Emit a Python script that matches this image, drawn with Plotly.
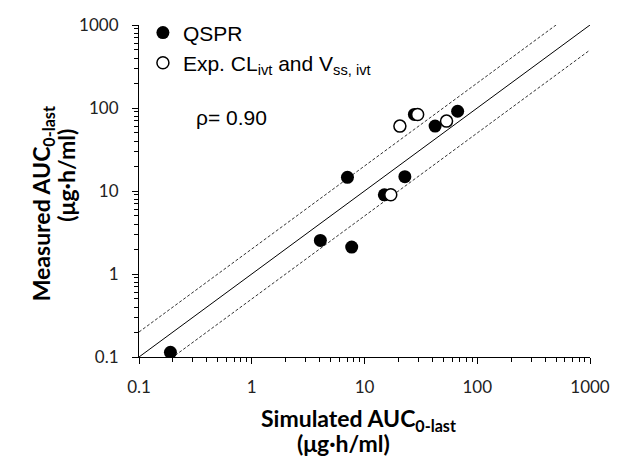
import plotly.graph_objects as go

# Data (µg·h/ml)
qspr_sim = [0.19, 4.06, 7.7, 7.06, 15.0, 22.8, 27.7, 42.3, 67.0]
qspr_meas = [0.114, 2.54, 2.11, 14.6, 9.0, 14.9, 83.6, 60.5, 91.4]
exp_sim = [17.1, 20.6, 29.6, 53.4]
exp_meas = [9.0, 60.5, 83.6, 69.5]

# reference lines: unity and 2-fold
ref_x = [0.1, 1000]
fold = 2.0

tick_vals = [0.1, 1, 10, 100, 1000]
tick_text = ["0.1", "1", "10", "100", "1000"]

fig = go.Figure()
fig.add_trace(go.Scatter(x=ref_x, y=ref_x, mode="lines",
                         line=dict(color="black", width=1), showlegend=False, hoverinfo="skip"))
fig.add_trace(go.Scatter(x=ref_x, y=[v * fold for v in ref_x], mode="lines",
                         line=dict(color="#333", width=1, dash="3px,2px"), showlegend=False, hoverinfo="skip"))
fig.add_trace(go.Scatter(x=ref_x, y=[v / fold for v in ref_x], mode="lines",
                         line=dict(color="#333", width=1, dash="3px,2px"), showlegend=False, hoverinfo="skip"))
fig.add_trace(go.Scatter(x=qspr_sim, y=qspr_meas, mode="markers", name="QSPR",
                         marker=dict(color="black", size=13, line=dict(width=0))))
fig.add_trace(go.Scatter(x=exp_sim, y=exp_meas, mode="markers",
                         name="Exp. CL<sub>ivt</sub> and V<sub>ss, ivt</sub>",
                         marker=dict(color="white", size=12, line=dict(color="black", width=1.5))))

axis_common = dict(
    type="log", showline=True, linecolor="black", linewidth=1.2,
    showgrid=False, zeroline=False, ticks="outside", ticklen=6, tickwidth=1, tickcolor="black",
    tickmode="array", tickvals=tick_vals, ticktext=tick_text,
    tickfont=dict(family="Lato", size=17, color="#222"),
    minor=dict(ticks="outside", ticklen=4, tickwidth=1, tickcolor="black",
               dtick="D1", showgrid=False),
)
fig.update_xaxes(range=[-1, 3], ticklabelstandoff=8, **axis_common)
fig.update_yaxes(range=[-1, 3], ticklabelstandoff=10, **axis_common)

title_font = dict(family="Lato", size=23, color="black")
fig.add_annotation(text="<b>Simulated AUC<sub>0-last</sub></b>", xref="paper", yref="paper",
                   x=0.487, y=-0.188, showarrow=False, font=title_font, xanchor="center", yanchor="middle")
fig.add_annotation(text="<b>(μg·h/ml)</b>", xref="paper", yref="paper",
                   x=0.454, y=-0.258, showarrow=False, font=title_font, xanchor="center", yanchor="middle")
fig.add_annotation(text="<b>Measured AUC<sub>0-last</sub></b>", xref="paper", yref="paper",
                   x=-0.215, y=0.46, showarrow=False, font=title_font, textangle=-90,
                   xanchor="center", yanchor="middle")
fig.add_annotation(text="<b>(μg·h/ml)</b>", xref="paper", yref="paper",
                   x=-0.162, y=0.549, showarrow=False, font=title_font, textangle=-90,
                   xanchor="center", yanchor="middle")
fig.add_annotation(text="ρ= 0.90", xref="paper", yref="paper", x=0.122, y=0.722,
                   showarrow=False, xanchor="left", yanchor="middle",
                   font=dict(family="Liberation Sans", size=21, color="black"))

fig.update_layout(
    width=622, height=458,
    margin=dict(l=139, r=23, t=22, b=101),
    paper_bgcolor="white", plot_bgcolor="white",
    legend=dict(x=0.0087, y=1.038, xanchor="left", yanchor="top", bgcolor="rgba(0,0,0,0)",
                font=dict(family="Liberation Sans", size=21, color="black"), tracegroupgap=0),
)

fig.write_html("out.html")
